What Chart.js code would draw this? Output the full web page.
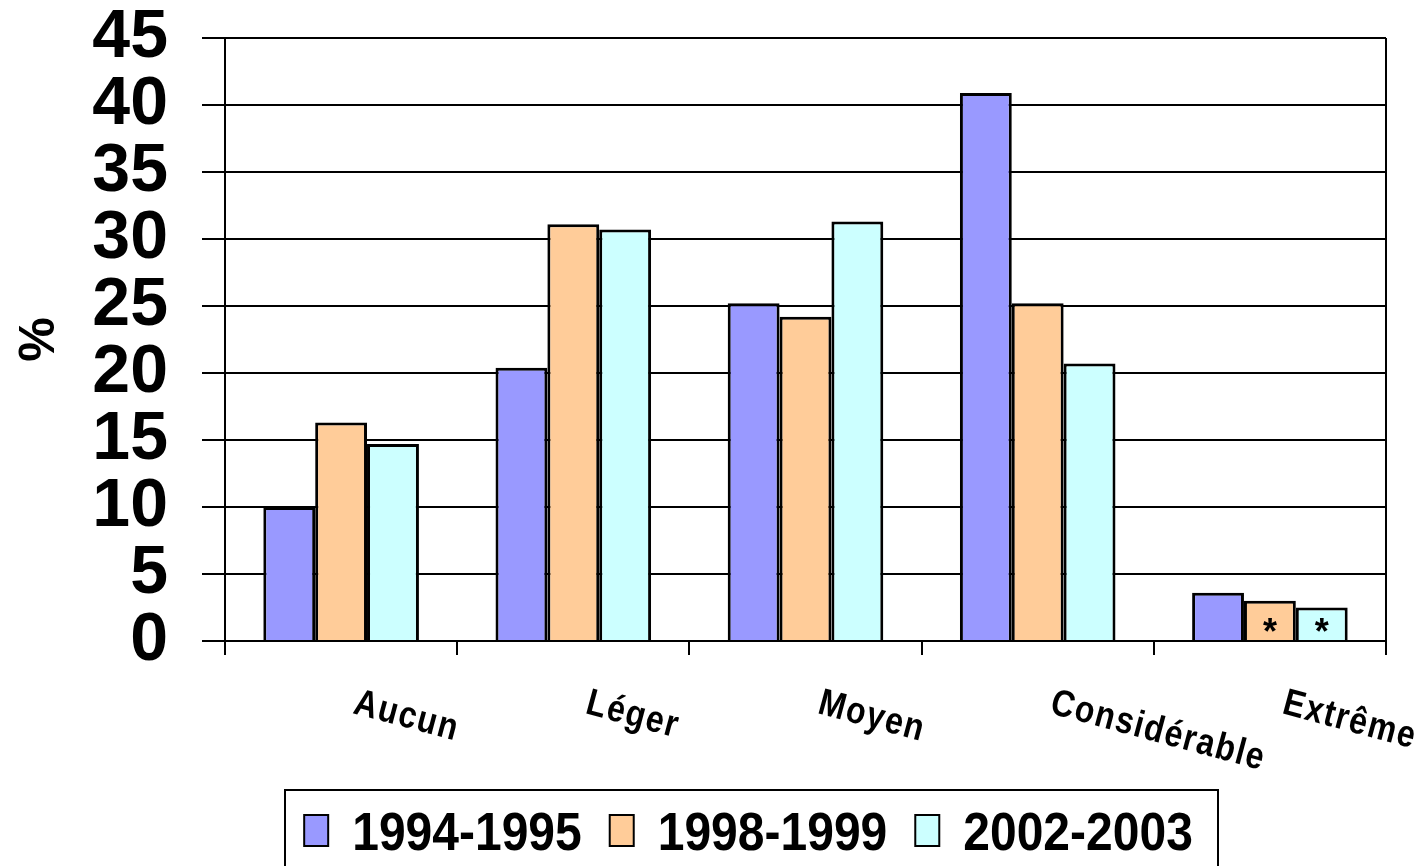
<!DOCTYPE html>
<html>
<head>
<meta charset="utf-8">
<script src="https://cdn.jsdelivr.net/npm/chart.js@4"></script>
<style>
  body { margin: 0; background: #fff; }
  canvas { display: block; }
</style>
</head>
<body>
<canvas id="chart" width="1422" height="866"></canvas>
<script>
var categories = ["Aucun", "Léger", "Moyen", "Considérable", "Extrême"];
var seriesLabels = ["1994-1995", "1998-1999", "2002-2003"];
var values9495 = [10.0, 20.4, 25.2, 40.9, 3.6];
var values9899 = [16.3, 31.1, 24.2, 25.2, 3.0];
var values0203 = [14.7, 30.7, 31.3, 20.7, 2.5];
// "*" marks printed inside some bars
var stars9495 = [false, false, false, false, false];
var stars9899 = [false, false, false, false, true];
var stars0203 = [false, false, false, false, true];
var yMin = 0, yMax = 45, yStep = 5;
var yTitle = "%";

var colors = ["#9999FF", "#FFCC99", "#CCFFFF"];
var fontFamily = "'Liberation Sans', Arial, sans-serif";
var narrowFamily = "'Liberation Sans Narrow', 'Liberation Sans', Arial, sans-serif";

var extras = {
    id: "extras",
    afterDraw: function (chart) {
        let ctx = chart.ctx;
        let area = chart.chartArea;
        let xs = chart.scales.x;
        ctx.save();

        // right frame line
        ctx.strokeStyle = "#000";
        ctx.lineWidth = 2;
        ctx.beginPath();
        ctx.moveTo(area.right, area.top);
        ctx.lineTo(area.right, area.bottom);
        ctx.stroke();

        // stars inside bars
        let starSets = [stars9495, stars9899, stars0203];
        ctx.fillStyle = "#000";
        ctx.font = "bold 36px " + fontFamily;
        ctx.textAlign = "center";
        ctx.textBaseline = "alphabetic";
        starSets.forEach(function (flags, d) {
            let meta = chart.getDatasetMeta(d);
            flags.forEach(function (on, i) {
                if (!on) return;
                let bar = meta.data[i];
                ctx.fillText("*", bar.x, area.bottom + 3);
            });
        });

        // sloped category labels
        ctx.font = "bold 32px " + fontFamily;
        ctx.letterSpacing = "1.5px";
        ctx.textAlign = "left";
        categories.forEach(function (c, i) {
            let x = xs.getPixelForValue(i) + 11;
            ctx.save();
            ctx.translate(x, area.bottom + 72);
            ctx.rotate(15 * Math.PI / 180);
            ctx.scale(1, 1.18);
            ctx.fillText(c, 0, 0);
            ctx.restore();
        });
        ctx.letterSpacing = "0px";

        // y title
        ctx.save();
        ctx.translate(54, (area.top + area.bottom) / 2);
        ctx.rotate(-Math.PI / 2);
        ctx.textAlign = "center";
        ctx.font = "bold 50px " + fontFamily;
        ctx.fillText(yTitle, 0, 0);
        ctx.restore();

        // legend in a box
        let boxLeft = 285, boxTop = 790, boxRight = 1218;
        ctx.lineWidth = 2;
        ctx.strokeRect(boxLeft, boxTop, boxRight - boxLeft, 100);
        ctx.font = "bold 48px " + narrowFamily;
        ctx.textAlign = "left";
        let widths = seriesLabels.map(function (t) { return ctx.measureText(t).width; });
        let sq = 24, gapIn = 24, gapOut = 28;
        let total = 0;
        widths.forEach(function (w, i) { total += sq + gapIn + w + (i < widths.length - 1 ? gapOut : 0); });
        let x = (boxLeft + boxRight) / 2 - total / 2 - 3;
        seriesLabels.forEach(function (t, i) {
            ctx.fillStyle = colors[i];
            ctx.fillRect(x, 815, sq, 31);
            ctx.strokeStyle = "#000";
            ctx.strokeRect(x, 815, sq, 31);
            x += sq + gapIn;
            ctx.fillStyle = "#000";
            ctx.save();
            ctx.translate(x, 850);
            ctx.scale(1, 1.1);
            ctx.fillText(t, 0, 0);
            ctx.restore();
            x += widths[i] + gapOut;
        });

        ctx.restore();
    }
};

let chartData = {
    labels: categories,
    datasets: [
        { label: seriesLabels[0], data: values9495, backgroundColor: colors[0], borderColor: "#000", borderWidth: 3 },
        { label: seriesLabels[1], data: values9899, backgroundColor: colors[1], borderColor: "#000", borderWidth: 3 },
        { label: seriesLabels[2], data: values0203, backgroundColor: colors[2], borderColor: "#000", borderWidth: 3 }
    ]
};

let chartOptions = {
    responsive: false,
    animation: false,
    layout: { padding: { left: 0, right: 36, top: 38, bottom: 0 } },
    datasets: { bar: { categoryPercentage: 0.67, barPercentage: 1 } },
    plugins: { legend: { display: false }, tooltip: { enabled: false } },
    scales: {
        x: {
            offset: true,
            grid: { display: true, offset: true, drawOnChartArea: false, tickLength: 14, color: "#000", lineWidth: 2 },
            border: { color: "#000", width: 2 },
            ticks: { display: false },
            afterFit: function (s) { s.height = 225; s.paddingLeft = 0; s.paddingRight = 0; }
        },
        y: {
            min: yMin,
            max: yMax,
            ticks: { stepSize: yStep, autoSkip: false, color: "#000", padding: 34, font: { size: 68, weight: "bold", family: fontFamily, lineHeight: 1 } },
            grid: { color: "#000", lineWidth: 2, tickLength: 23 },
            border: { color: "#000", width: 2 },
            afterFit: function (s) { s.width = 225; s.paddingTop = 0; s.paddingBottom = 0; }
        }
    }
};

let ctx = document.getElementById("chart").getContext("2d");
new Chart(ctx, { type: "bar", data: chartData, options: chartOptions, plugins: [extras] });
</script>
</body>
</html>
